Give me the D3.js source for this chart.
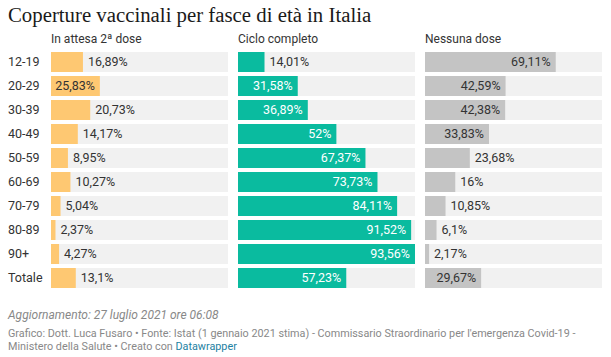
<!DOCTYPE html>
<html><head><meta charset="utf-8">
<script src="https://cdn.jsdelivr.net/npm/d3@7"></script>
<style>
body{margin:0;background:#fff;}
svg text{font-family:Roboto,sans-serif;}
</style></head>
<body><svg id="c" width="611" height="357"></svg>
<script>
const categories = ["12-19","20-29","30-39","40-49","50-59","60-69","70-79","80-89","90+","Totale"];
const seriesNames = ["In attesa 2ª dose","Ciclo completo","Nessuna dose"];
const attesa = [16.89,25.83,20.73,14.17,8.95,10.27,5.04,2.37,4.27,13.1];
const completo = [14.01,31.58,36.89,52,67.37,73.73,84.11,91.52,93.56,57.23];
const nessuna = [69.11,42.59,42.38,33.83,23.68,16,10.85,6.1,2.17,29.67];
const seriesValues = [attesa, completo, nessuna];
const colors = ["#fec872","#0abb9f","#c4c4c4"];
const insideText = ["#333","#fff","#333"];

const svg = d3.select("#c");
svg.append("text").attr("x",8).attr("y",22).text("Coperture vaccinali per fasce di età in Italia")
  .style("font-family","'Liberation Serif',serif").style("font-size","20.8px").attr("fill","#1a1a1a");

const colX = [51,238,425], colW = 177;
const yb = d3.scaleBand().domain(categories).range([50,290]).paddingInner(1/6).paddingOuter(1/12);
const maxV = d3.max(seriesValues.flat());

const fmt = v => String(v).replace(".",",") + "%";

svg.selectAll("text.cat").data(categories).join("text").attr("class","cat")
  .attr("x",8).attr("y",d=>yb(d)+yb.bandwidth()/2).attr("dy","0.35em")
  .attr("font-size",12.5).attr("fill","#333").text(d=>d);

seriesValues.forEach((vals,i)=>{
  const x = d3.scaleLinear().domain([0,maxV]).range([colX[i],colX[i]+colW]);
  const g = svg.append("g");
  g.append("text").attr("x",colX[i]).attr("y",43).attr("font-size",12).attr("fill","#333").text(seriesNames[i]);
  g.selectAll("rect.bg").data(categories).join("rect").attr("class","bg")
    .attr("x",colX[i]).attr("y",d=>yb(d)).attr("width",colW).attr("height",yb.bandwidth()).attr("fill","#f1f1f1");
  g.selectAll("rect.bar").data(vals).join("rect").attr("class","bar")
    .attr("x",colX[i]).attr("y",(d,j)=>yb(categories[j])).attr("width",d=>x(d)-colX[i]).attr("height",yb.bandwidth()).attr("fill",colors[i]);
  const lbls = g.selectAll("text.lbl").data(vals).join("text").attr("class","lbl")
    .attr("y",(d,j)=>yb(categories[j])+yb.bandwidth()/2).attr("dy","0.35em")
    .attr("font-size",12.5).text(fmt);
  let maxW = 0;
  lbls.each(function(){ maxW = Math.max(maxW, this.getComputedTextLength()); });
  lbls.each(function(d){
      const t = d3.select(this);
      const bw = x(d)-colX[i];
      if (bw >= maxW + 7) {
        t.attr("x",x(d)-5).attr("text-anchor","end").attr("fill",insideText[i]);
      } else {
        t.attr("x",x(d)+5).attr("text-anchor","start").attr("fill","#333");
      }
    });
});

svg.append("text").attr("x",8).attr("y",319).attr("font-size",12).attr("font-style","italic").attr("fill","#888")
  .text("Aggiornamento: 27 luglio 2021 ore 06:08");
svg.append("text").attr("x",8).attr("y",337).attr("font-size",10.8).attr("fill","#888")
  .text("Grafico: Dott. Luca Fusaro • Fonte: Istat (1 gennaio 2021 stima) - Commissario Straordinario per l'emergenza Covid-19 -");
const l2 = svg.append("text").attr("x",8).attr("y",350).attr("font-size",10.8).attr("fill","#888");
l2.append("tspan").text("Ministero della Salute • Creato con ");
l2.append("tspan").attr("fill","#1d81a2").text("Datawrapper");
</script></body></html>
